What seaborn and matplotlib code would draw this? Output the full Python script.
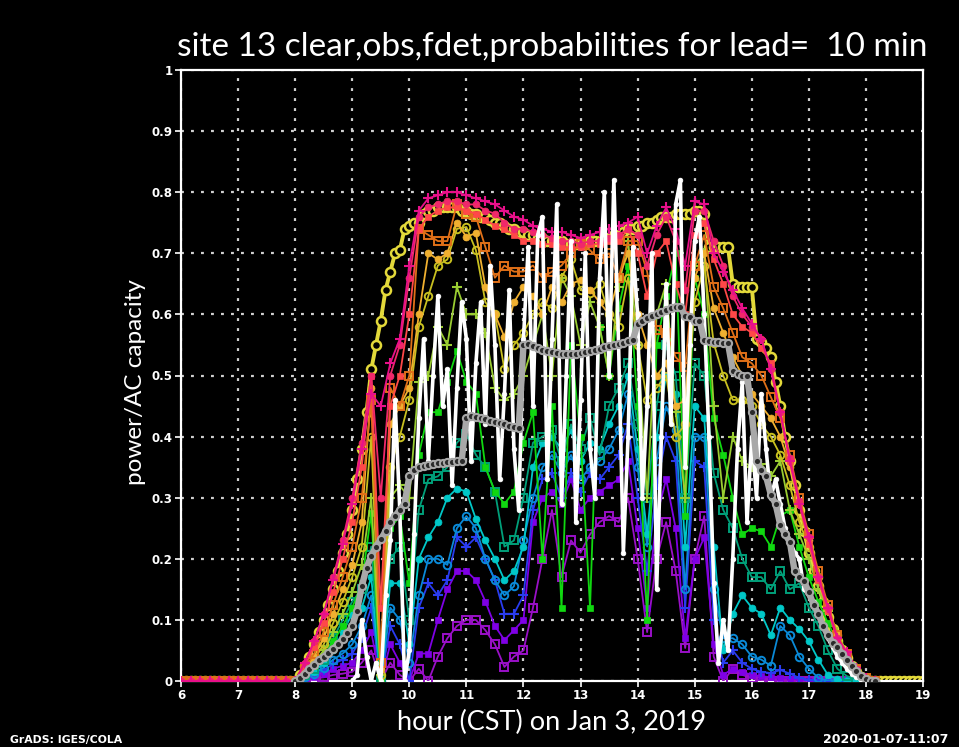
import numpy as np
import pandas as pd
import matplotlib
matplotlib.use("Agg")
import matplotlib.pyplot as plt
import seaborn as sns

# ---------------- data ----------------
TITLE = "site 13 clear,obs,fdet,probabilities for lead=  10 min"
XLABEL = "hour (CST) on Jan 3, 2019"
YLABEL = "power/AC capacity"
FOOT_LEFT = "GrADS: IGES/COLA"
FOOT_RIGHT = "2020-01-07-11:07"

x_ticks = list(range(6, 20))
x_tick_labels = [str(h) for h in x_ticks]
y_ticks = [0, 0.1, 0.2, 0.3, 0.4, 0.5, 0.6, 0.7, 0.8, 0.9, 1.0]
y_tick_labels = ["0", "0.1", "0.2", "0.3", "0.4", "0.5", "0.6", "0.7", "0.8", "0.9", "1"]

# clear-sky and deterministic forecast: 5-minute values from 08:00
clear_start, clear_step = 8.0, 5
clear = [0, .01, .025, .04, .06, .08, .10, .125, .15, .18, .21, .24,
         .28, .33, .38, .44, .51, .55, .59, .64, .67, .70, .705, .74,
         .745, .75, .75, .765, .77, .77, .775, .775, .775, .775, .775, .77,
         .77, .765, .765, .76, .76, .755, .75, .75, .745, .74, .74, .735,
         .735, .73, .73, .725, .725, .72, .72, .72, .72, .715, .715, .715,
         .715, .715, .72, .72, .72, .725, .725, .73, .73, .735, .74, .74,
         .745, .745, .75, .75, .755, .76, .76, .76, .765, .765, .765, .765,
         .77, .77, .765, .71, .71, .71, .71, .71, .65, .645, .645, .645,
         .645, .56, .555, .545, .53, .49, .45, .40, .36, .32, .28, .245,
         .21, .18, .155, .13, .105, .085, .065, .05, .038, .025, .015, .007,
         .002, 0, 0]

fdet_start, fdet_step = 8.0, 5
fdet = [0, .005, .012, .02, .027, .034, .04, .046, .053, .06, .068, .078,
        .09, .115, .155, .185, .205, .22, .232, .245, .26, .27, .28, .29,
        .335, .345, .35, .352, .354, .355, .356, .357, .358, .358, .36, .36,
        .43, .433, .432, .43, .428, .426, .424, .422, .42, .418, .416, .414,
        .55, .552, .548, .545, .542, .54, .538, .537, .536, .536, .536, .536,
        .537, .538, .54, .542, .544, .546, .548, .55, .552, .554, .556, .558,
        .585, .59, .594, .598, .60, .604, .607, .61, .612, .612, .597, .595,
        .59, .59, .558, .556, .555, .555, .553, .553, .508, .503, .50, .50,
        .44, .36, .345, .335, .305, .29, .255, .24, .228, .18, .17, .163,
        .145, .125, .11, .09, .075, .063, .055, .045, .034, .024, .016, .008,
        .003, 0, 0]

# observations: 5-minute values from 09:00
obs_start, obs_step = 9.0, 5
obs = [0, .01, .1, .04, 0, .03, 0, .14, .23, .46, .28, 0,
       .05, .24, .43, .56, .36, .5, .63, .45, .51, .32, .48, .62,
       .56, .36, .52, .62, .42, .68, .55, .33, .47, .64, .38, .28,
       .56, .71, .45, .73, .76, .33, .56, .78, .29, .5, .72, .26,
       .46, .7, .38, .3, .66, .8, .5, .82, .55, .21, .4, .71,
       .6, .3, .45, .7, .15, .4, .65, .42, .78, .82, .35, .55,
       .72, .76, .6, .4, .16, .03, .1, .05, .2, .38, .49, .26,
       .4, .3, .47, .38, .3, .33, .29, .25, .23, .21, .2, .15,
       .14, .13, .11, .09, .07, .055, .04, .03, .02, .012, .006, .002,
       0]

# probability quantiles: 10-minute values from 08:00 (highest -> lowest)
prob_start, prob_step = 8.0, 10
p_magenta = [0, .03, .065, .11, .165, .225, .29, .38, .47,
             .45, .52, .56, .68, .77, .79, .795, .8, .8, .795,
             .79, .785, .78, .77, .76, .755,
             .745, .74, .735, .735, .73, .725, .73, .735, .74, .745, .75, .76,
             .7, .745, .775, .74, .68, .785, .78,
             .7, .67, .64, .61, .585, .56, .51, .44, .36, .29, .235, .17, .12, .07, .047, .021, .005, 0]
p_crimson = [0, .03, .065, .11, .17, .23, .3, .39, .5,
             .3, .5, .55, .66, .76, .775, .78, .785, .785, .78,
             .78, .77, .765, .75, .74, .74,
             .735, .73, .725, .72, .72, .715, .72, .72, .725, .73, .74, .73,
             .68, .73, .76, .72, .64, .77, .77,
             .72, .68, .63, .6, .58, .56, .51, .44, .365, .295, .235, .17, .12, .07, .046, .02, .004, 0]
p_red = [0, .025, .055, .095, .145, .2, .26, .35, .5,
         .12, .45, .5, .6, .74, .76, .77, .775, .775, .77,
         .765, .755, .745, .74, .73, .72,
         .72, .715, .715, .71, .71, .71, .715, .715, .72, .72, .74, .7,
         .63, .7, .72, .65, .6, .73, .75,
         .69, .65, .6, .58, .57, .545, .52, .44, .36, .29, .225, .165, .115, .068, .043, .019, .004, 0]
p_orange = [0, .02, .045, .08, .125, .17, .22, .3, .46,
            .03, .48, .45, .5, .74, .73, .72, .72, .78, .765,
            .76, .71, .66, .68, .67, .67,
            .68, .66, .67, .68, .7, .715, .705, .69, .7, .66, .72, .72,
            .67, .575, .57, .53, .514, .68, .73,
            .645, .61, .57, .53, .52, .5, .465, .43, .37, .3, .24, .18, .125, .075, .045, .02, .005, 0]
p_gold = [0, .02, .04, .07, .11, .15, .19, .26, .48,
          .02, .42, .45, .48, .6, .7, .69, .7, .75, .727,
          .733, .645, .6, .563, .62, .645,
          .63, .6, .645, .62, .65, .656, .64, .62, .6, .66, .7, .6,
          .55, .5, .52, .45, .46, .66, .7,
          .61, .57, .53, .5, .47, .45, .43, .4, .35, .29, .23, .17, .12, .075, .045, .02, .005, 0]
p_yellow = [0, .015, .035, .06, .095, .13, .17, .22, .4,
            .01, .35, .4, .46, .58, .63, .68, .69, .74, .743,
            .705, .62, .6, .51, .55, .57,
            .6, .62, .61, .66, .69, .64, .635, .65, .6, .58, .66, .55,
            .46, .48, .5, .4, .42, .62, .68,
            .553, .5, .46, .46, .45, .42, .4, .37, .32, .26, .22, .17, .12, .075, .045, .02, .005, 0]
p_lime = [0, .015, .03, .05, .08, .11, .145, .19, .3,
          .01, .3, .32, .3, .49, .5, .58, .55, .645, .6,
          .6, .57, .48, .46, .47, .5,
          .55, .6, .5, .66, .63, .55, .62, .58, .5, .645, .72, .55,
          .3, .6, .65, .44, .3, .68, .7,
          .45, .3, .4, .36, .35, .355, .335, .36, .28, .24, .2, .15, .115, .08, .045, .02, .005, 0]
p_green = [0, .012, .025, .04, .065, .09, .12, .16, .275,
           0, .25, .27, .16, .37, .44, .44, .49, .54, .49,
           .47, .35, .31, .29, .31, .39,
           .44, .2, .45, .12, .55, .4, .12, .58, .5, .61, .68, .45,
           .1, .55, .63, .7, .27, .66, .6,
           .43, .37, .3, .24, .25, .245, .22, .27, .28, .22, .17, .13, .095, .065, .04, .02, .006, 0]
p_teal = [0, .01, .02, .035, .07, .1, .13, .15, .22,
          0, .2, .22, .1, .28, .33, .335, .35, .39, .405,
          .37, .35, .31, .22, .23, .3,
          .39, .4, .41, .36, .42, .38, .43, .37, .45, .48, .52, .42,
          .3, .45, .55, .5, .3, .52, .5,
          .34, .28, .25, .2, .17, .17, .15, .18, .15, .16, .12, .09, .05, .02, .008, .003, 0, 0]
p_cyan = [0, .008, .015, .03, .05, .08, .11, .12, .17,
          0, .16, .16, .06, .2, .235, .26, .3, .315, .31,
          .265, .23, .2, .165, .18, .22,
          .35, .39, .4, .38, .41, .36, .39, .38, .42, .45, .5, .38,
          .24, .4, .5, .47, .22, .45, .43,
          .22, .05, .11, .14, .12, .11, .075, .12, .1, .085, .065, .035, .01, .003, 0, 0, 0, 0]
p_azure = [0, .006, .012, .022, .035, .045, .06, .09, .14,
           0, .12, .1, .03, .14, .2, .2, .19, .25, .27,
           .25, .2, .165, .14, .155, .23,
           .3, .35, .37, .34, .37, .33, .35, .36, .38, .41, .47, .35,
           .22, .36, .45, .41, .15, .4, .4,
           .15, .07, .07, .06, .04, .035, .025, .09, .075, .04, .02, .005, 0, 0, 0, 0, 0, 0]
p_blue = [0, .005, .01, .018, .028, .035, .045, .07, .12,
          0, .09, .06, 0, .12, .16, .14, .165, .235, .22,
          .235, .2, .165, .11, .11, .14,
          .28, .33, .34, .3, .34, .31, .34, .33, .35, .37, .42, .3,
          .18, .32, .4, .36, .12, .36, .35,
          .1, .03, .05, .03, .02, .015, .013, .018, .012, .005, .002, 0, 0, 0, 0, 0, 0, 0]
p_violet = [0, .003, .006, .012, .02, .025, .03, .05, .08,
            0, .06, .03, 0, .045, .045, .1, .15, .18, .18,
            .165, .13, .09, .067, .083, .1,
            .26, .3, .31, .29, .33, .28, .3, .31, .32, .33, .36, .25,
            .12, .27, .33, .25, .07, .2, .235,
            .06, .01, .02, .015, .01, .008, .006, .005, .004, .002, 0, 0, 0, 0, 0, 0, 0, 0]
p_purple = [0, .002, .004, .006, .01, .012, .015, .03, .05,
            0, .03, .01, 0, .02, 0, .04, .07, .09, .1,
            .1, .083, .06, .023, .04, .05,
            .12, .2, .28, .17, .23, .21, .24, .26, .27, .26, .3, .2,
            .08, .2, .26, .18, .054, .2, .27,
            .04, 0, .02, .01, .005, 0, 0, 0, 0, 0, 0, 0, 0, 0, 0, 0, 0, 0]

# values are zero (night) outside the sampled spans
night_before = 6.0
night_after = 19.0

# ---------------- styling ----------------
W, H = 959, 747
BG = "black"
FG = "white"

sns.set_theme(style="dark", rc={"axes.facecolor": BG, "figure.facecolor": BG,
                                "text.color": FG, "axes.labelcolor": FG})
plt.rcParams["font.family"] = ["DejaVu Sans"]

fig = plt.figure(figsize=(W / 100, H / 100), dpi=100, facecolor=BG)
L, R, T, B = 181, 923, 70, 681
ax = fig.add_axes([L / W, 1 - B / H, (R - L) / W, (B - T) / H])
ax.set_facecolor(BG)


def frame(start, step_min, values, pad_before=False, pad_after=False):
    t = start + np.arange(len(values)) * step_min / 60.0
    v = np.asarray(values, dtype=float)
    if pad_before:
        tb = np.arange(night_before, start - 1e-9, step_min / 60.0)
        t = np.concatenate([tb, t])
        v = np.concatenate([np.zeros(len(tb)), v])
    if pad_after:
        ta = np.arange(t[-1] + step_min / 60.0, night_after + 1e-9, step_min / 60.0)
        t = np.concatenate([t, ta])
        v = np.concatenate([v, np.zeros(len(ta))])
    return pd.DataFrame({"hour": t, "value": v})


def draw(df, color, marker, ms, lw, mfc, mec, mew, z):
    sns.lineplot(data=df, x="hour", y="value", ax=ax, color=color, linewidth=lw,
                 marker=marker, markersize=ms, markerfacecolor=mfc,
                 markeredgecolor=mec, markeredgewidth=mew,
                 estimator=None, sort=False, zorder=z, legend=False)


# clear sky (drawn first)
YEL = "#e3d93a"
draw(frame(clear_start, clear_step, clear, True, True), YEL, "o", 6.5, 2.8, BG, YEL, 1.8, 2)

# probability quantiles: lowest first so highest ends up on top
prob_styles = [
    (p_purple, "#9a10c8", "s", 5.4, "none"),
    (p_violet, "#7f00e6", "s", 5.0, "fill"),
    (p_blue, "#2a3cf0", "+", 6.5, "plus"),
    (p_azure, "#0a8ad8", "o", 5.4, "none"),
    (p_cyan, "#00c8c8", "o", 5.0, "fill"),
    (p_teal, "#00a07a", "s", 5.4, "none"),
    (p_green, "#10d810", "s", 5.0, "fill"),
    (p_lime, "#9acd32", "+", 6.5, "plus"),
    (p_yellow, "#c8c020", "o", 5.4, "none"),
    (p_gold, "#f0b030", "o", 5.0, "fill"),
    (p_orange, "#e07018", "s", 5.4, "none"),
    (p_red, "#ff4848", "s", 5.0, "fill"),
    (p_crimson, "#f0286a", "o", 5.0, "fill"),
    (p_magenta, "#e8108a", "+", 7.0, "plus"),
]
for k, (vals, col, mk, ms, kind) in enumerate(prob_styles):
    df = frame(prob_start, prob_step, vals, pad_before=True)
    if kind == "fill":
        draw(df, col, mk, ms, 1.3, col, col, 0.5, 3 + k * 0.05)
    elif kind == "none":
        draw(df, col, mk, ms, 1.3, "none", col, 1.4, 3 + k * 0.05)
    else:
        draw(df, col, mk, ms, 1.3, col, col, 1.5, 3 + k * 0.05)

# observations
draw(frame(obs_start, obs_step, obs), FG, "o", 3.4, 2.6, FG, FG, 0.5, 5)
# deterministic forecast
GRY = "#a8a8a8"
draw(frame(fdet_start, fdet_step, fdet), GRY, "o", 5.2, 4.6, "#2a2a2a", GRY, 1.5, 6)

# ---------------- axes ----------------
ax.set_xlim(6, 19)
ax.set_ylim(0, 1)
ax.set_xticks(x_ticks)
ax.set_xticklabels(x_tick_labels)
ax.set_yticks(y_ticks)
ax.set_yticklabels(y_tick_labels)
ax.set_xlabel("")
ax.set_ylabel("")
ax.grid(True, color="#cfcfcf", linestyle=(0, (1.3, 3.2)), linewidth=1.6)
ax.set_axisbelow(True)
for s in ax.spines.values():
    s.set_color(FG)
    s.set_linewidth(1.6)
    s.set_visible(True)
ax.tick_params(axis="both", colors=FG, direction="out", length=4, width=1.2,
               labelsize=8.5, pad=2, bottom=True, left=True)
for lab in ax.get_xticklabels() + ax.get_yticklabels():
    lab.set_fontweight("bold")
    lab.set_color(FG)

TXT = ["Lato", "DejaVu Sans"]
fig.text(552 / W, 1 - 56 / H, TITLE, color=FG, ha="center", va="baseline",
         fontsize=24, family=TXT, fontweight="normal")
fig.text(552 / W, 1 - 730 / H, XLABEL, color=FG, ha="center", va="baseline",
         fontsize=19.5, family=TXT, fontweight="normal")
fig.text(135 / W, 1 - 382 / H, YLABEL, color=FG, ha="center", va="center",
         rotation=90, fontsize=17.5, family=TXT, fontweight="normal")
fig.text(10 / W, 1 - 743 / H, FOOT_LEFT, color=FG, ha="left", va="baseline",
         fontsize=7.8, family=["DejaVu Sans"], fontweight="bold")
fig.text(948 / W, 1 - 743 / H, FOOT_RIGHT, color=FG, ha="right", va="baseline",
         fontsize=9, family=["DejaVu Sans"], fontweight="bold")

fig.savefig("out.png", dpi=100, facecolor=BG)
